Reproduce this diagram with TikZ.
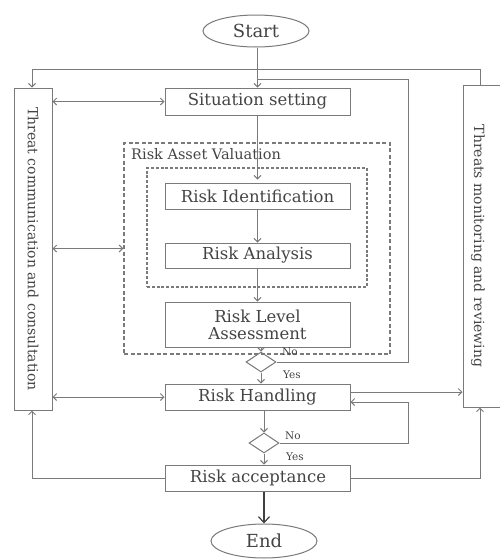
\documentclass[tikz,border=0pt]{standalone}
\usepackage{fontspec}
\setmainfont{DejaVu Serif}
\usetikzlibrary{arrows.meta,shapes.geometric}
\definecolor{ln}{HTML}{7A7A7A}
\definecolor{tx}{HTML}{444444}
\begin{document}
\begin{tikzpicture}[x=1pt,y=-1pt,
  every node/.style={text=tx},
  line/.style={draw=ln,line width=1pt},
  arr/.style={line,-{Straight Barb[length=3.5pt,width=7pt]}},
  darr/.style={line,{Straight Barb[length=3.5pt,width=7pt]}-{Straight Barb[length=3.5pt,width=7pt]}},
  box/.style={line,rectangle,minimum width=185pt,inner sep=1pt,font=\fontsize{16.5}{17}\selectfont},
  term/.style={line,ellipse,minimum width=106pt,minimum height=32pt,inner sep=0pt,font=\fontsize{18}{20}\selectfont},
  dec/.style={line,diamond,minimum width=30pt,minimum height=20pt,inner sep=0pt},
  side/.style={line,rectangle,inner sep=0pt},
  vtext/.style={rotate=-90,font=\fontsize{14}{15}\selectfont},
  small/.style={font=\fontsize{10.5}{11}\selectfont}]
\useasboundingbox (0,0) rectangle (499,560);
% terminals
\node[term] (start) at (256,31) {Start};
\node[term,minimum height=34pt] (end) at (264,541) {End};
% side boxes
\node[side,minimum width=38pt,minimum height=322pt] (lb) at (33,249) {};
\node[vtext] (lbt) at (lb.center) {Threat communication and consultation};
\node[side,minimum width=57pt,minimum height=322pt] (rb) at (491.5,246) {};
\node[vtext] (rbt) at (478,246) {Threats monitoring and reviewing};
% dashed groups
\node[line,dash pattern=on 4pt off 2.5pt,line width=1.2pt,minimum width=266pt,minimum height=211pt,inner sep=0pt] (outer) at (257,248.5) {};
\node[anchor=north west,inner sep=0pt,font=\fontsize{14.5}{16}\selectfont] (ravl) at (131,148) {Risk Asset Valuation};
\node[line,dash pattern=on 3pt off 1.8pt,line width=1.2pt,minimum width=220pt,minimum height=119pt,inner sep=0pt] (inner) at (257,227.5) {};
% process boxes
\node[box,minimum height=27pt] (ss) at (257.5,101.5) {Situation setting};
\node[box,minimum height=26pt] (ri) at (257.5,196) {Risk Identification};
\node[box,minimum height=25pt] (ra) at (257.5,255.5) {Risk Analysis};
\node[box,minimum height=45pt,align=center] (rla) at (257.5,324.5) {Risk Level\\Assessment};
\node[dec] (d1) at (261,362) {};
\node[box,minimum height=26pt] (rh) at (257.5,397) {Risk Handling};
\node[dec] (d2) at (264,443) {};
\node[box,minimum height=26pt] (racc) at (258,478) {Risk acceptance};
% labels
\node[small] (no1) at (290,352) {No};
\node[small] (yes1) at (292,375) {Yes};
\node[small] (no2) at (293,436) {No};
\node[small] (yes2) at (295,457) {Yes};
% coordinates
\coordinate (jn) at (257,79);
\coordinate (fbx) at (408,79);
\coordinate (tl) at (32,69);
\coordinate (tr) at (480,69);
\coordinate (bl) at (32,478);
\coordinate (br) at (480,478);
% main flow
\draw[arr] (start.south -| ss.north) -- (ss.north);
\draw[arr] (ss.south) -- ([yshift=3pt]ri.north);
\draw[arr] (ri.south) -- (ra.north);
\draw[arr] (ra.south) -- (rla.north);
\draw[arr] (rla.south -| d1.north) -- (d1.north);
\draw[arr] (d1.south) -- (d1.south |- rh.north);
\draw[arr] (rh.south -| d2.north) -- (d2.north);
\draw[arr] (d2.south) -- (d2.south |- racc.north);
\draw[draw=black!75,line width=1.2pt,-{Straight Barb[length=6pt,width=11pt]}] (racc.south -| end.north) -- (end.north);
% feedback
\draw[line] (d1.east) -| (fbx) -- (jn);
\draw[arr] (d2.east) -| ([yshift=-5pt]rh.east -| fbx) -- ([yshift=-5pt]rh.east);
\draw[arr] ([yshift=5pt]rh.east) -- ([yshift=5pt]rh.east -| rb.west);
% side links
\draw[darr] (lb.east |- ss.west) -- (ss.west);
\draw[darr] (lb.east |- outer.west) -- (outer.west);
\draw[darr] (lb.east |- rh.west) -- (rh.west);
\draw[arr] (rb.north -| tr) -- (tr) -- (tl) -- (lb.north -| tl);
\draw[arr] (racc.west) -- (bl) -- (lb.south -| bl);
\draw[arr] (racc.east) -- (br) -- (rb.south -| br);
\end{tikzpicture}
\end{document}
